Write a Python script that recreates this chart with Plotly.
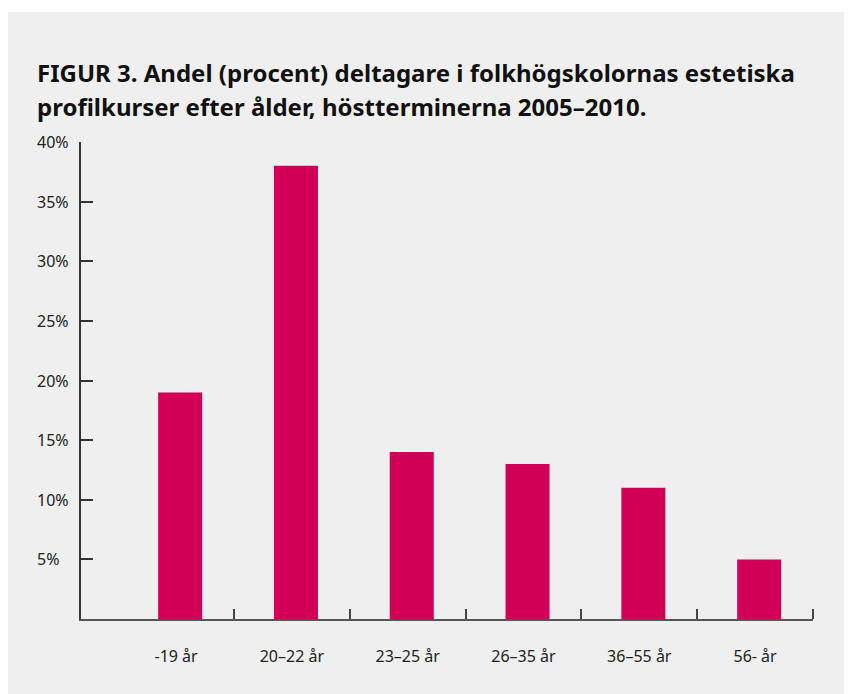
import plotly.graph_objects as go

categories = ["-19 år", "20–22 år", "23–25 år", "26–35 år", "36–55 år", "56- år"]
values = [19, 38, 14, 13, 11, 5]
y_ticks = [5, 10, 15, 20, 25, 30, 35, 40]
y_labels = ["5%", "10%", "15%", "20%", "25%", "30%", "35%", "40%"]
title_lines = ["FIGUR 3. Andel (procent) deltagare i folkhögskolornas estetiska",
               "profilkurser efter ålder, höstterminerna 2005–2010."]

# page has an 8px body margin, so the figure is 844x686
W, H = 844, 686
L, R, T, B = 73, 39, 134, 75
pw, ph = W - L - R, H - T - B

font = "Noto Sans"
xs = list(range(len(categories)))

fig = go.Figure()
fig.add_trace(go.Bar(x=xs, y=values, marker_color="#d10056", width=0.38, offset=-0.155,
                     marker_line_width=0, showlegend=False))

# grey card behind everything
fig.add_shape(type="rect", xref="paper", yref="paper",
              x0=-L / pw, x1=(W - L) / pw,
              y0=-B / ph, y1=(H - B - 4) / ph,
              fillcolor="#efefef", line_width=0, layer="below")

# left-aligned y labels
for v, lab in zip(y_ticks, y_labels):
    fig.add_annotation(x=(27 - L) / pw, xref="paper", y=v, yref="y", text=lab,
                       showarrow=False, xanchor="left", yanchor="middle",
                       font=dict(family=font, size=16, color="#222"))

for i, line in enumerate(title_lines):
    fig.add_annotation(x=(27 - L) / pw, xref="paper", y=(H - B - (64 + 35 * i)) / ph, yref="paper",
                       text="<b>" + line + "</b>", showarrow=False, xanchor="left", yanchor="middle",
                       font=dict(family=font, size=24, color="#111"))

fig.update_xaxes(range=[-0.821, 5.5], tickvals=xs, ticktext=categories, ticks="",
                 showline=True, linecolor="#555", linewidth=1.5, showgrid=False, zeroline=False,
                 ticklabelstandoff=22, tickfont=dict(family=font, size=16, color="#222"),
                 minor=dict(tickvals=[i + 0.5 for i in xs], ticks="inside", ticklen=10,
                            tickcolor="#444", tickwidth=1.5))
fig.update_yaxes(range=[0, 40], tickvals=y_ticks, ticks="inside", ticklen=12, tickcolor="#333",
                 tickwidth=1.5, showticklabels=False, showline=True, linecolor="#333",
                 linewidth=1.5, showgrid=False, zeroline=False)

fig.update_layout(width=W, height=H, margin=dict(l=L, r=R, t=T, b=B),
                  paper_bgcolor="white", plot_bgcolor="rgba(0,0,0,0)",
                  font=dict(family=font))

fig.write_html("out.html")
